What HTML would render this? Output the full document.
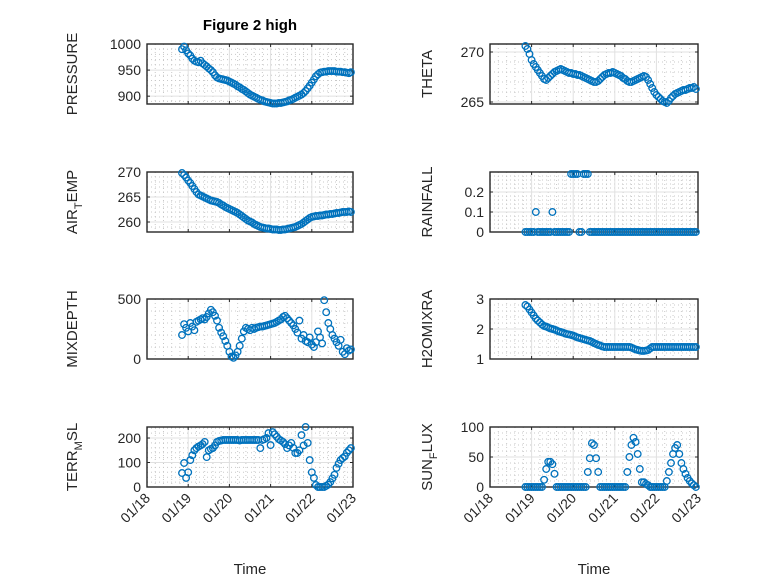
<!DOCTYPE html>
<html><head><meta charset="utf-8"><style>
body{margin:0;background:#fff;}
svg{display:block;font-family:"Liberation Sans",sans-serif;}
</style></head><body>
<svg id="fig" width="778" height="583" viewBox="0 0 778 583" xmlns="http://www.w3.org/2000/svg">
<rect width="778" height="583" fill="#fff"/>
<text x="250" y="30" text-anchor="middle" font-weight="bold" font-size="15" fill="#000">Figure 2 high</text>
</svg>
<script>
// days after 01/18 00:00
const times=[0.85,0.90,0.95,1.00,1.05,1.10,1.15,1.20,1.25,1.30,1.35,1.40,1.45,1.50,1.55,1.60,1.65,1.70,1.75,1.80,1.85,1.90,1.95,2.00,2.05,2.10,2.15,2.20,2.25,2.30,2.35,2.40,2.45,2.50,2.55,2.60,2.65,2.70,2.75,2.80,2.85,2.90,2.95,3.00,3.05,3.10,3.15,3.20,3.25,3.30,3.35,3.40,3.45,3.50,3.55,3.60,3.65,3.70,3.75,3.80,3.85,3.90,3.95,4.00,4.05,4.10,4.15,4.20,4.25,4.30,4.35,4.40,4.45,4.50,4.55,4.60,4.65,4.70,4.75,4.80,4.85,4.90,4.95];
const xTickLabels=["01/18","01/19","01/20","01/21","01/22","01/23"];
const pressure=[990,995,988,982,978,972,968,966,965,968,963,960,957,953,950,946,940,936,934,933,932,931,930,928,926,924,922,919,917,914,912,909,906,903,901,899,897,895,893,892,890,889,888,887,886,886,886,887,887,888,889,890,892,893,895,897,899,901,903,906,910,915,920,926,932,938,942,945,946,947,947,948,948,948,948,947,947,947,946,946,945,944,946];
const theta=[270.6,270.3,269.8,269.2,268.8,268.5,268.2,267.9,267.6,267.3,267.2,267.4,267.6,267.8,268.0,268.1,268.2,268.3,268.2,268.1,268.0,267.9,267.9,267.8,267.8,267.7,267.7,267.6,267.5,267.4,267.3,267.2,267.1,267.0,267.0,267.1,267.3,267.5,267.7,267.8,267.9,267.9,268.0,267.9,267.8,267.7,267.6,267.4,267.3,267.1,267.0,267.0,267.1,267.2,267.3,267.4,267.5,267.6,267.5,267.2,266.8,266.4,266.0,265.7,265.5,265.3,265.1,265.0,264.9,265.1,265.4,265.6,265.8,265.9,266.0,266.1,266.2,266.2,266.3,266.4,266.4,266.5,266.3];
const airTemp=[269.8,269.4,268.9,268.3,267.8,267.2,266.6,266.0,265.5,265.3,265.1,264.9,264.7,264.5,264.3,264.2,264.1,264.0,263.8,263.5,263.3,263.0,262.8,262.6,262.4,262.2,262.0,261.8,261.5,261.2,260.9,260.6,260.3,260.1,259.9,259.6,259.4,259.2,259.0,258.9,258.8,258.7,258.7,258.6,258.5,258.5,258.5,258.4,258.4,258.5,258.5,258.6,258.7,258.8,258.9,259.0,259.2,259.4,259.6,259.9,260.2,260.5,260.8,261.0,261.1,261.2,261.2,261.3,261.3,261.4,261.5,261.5,261.6,261.6,261.7,261.8,261.8,261.9,262.0,262.0,262.0,262.1,262.0];
const rainfall=[0,0,0,0,0,0.1,0,0,0,0,0,0,0,0.1,0,0,0,0,0,0,0,0,0.29,0.29,0.29,0.29,0,0,0.29,0.29,0.29,0,0,0,0,0,0,0,0,0,0,0,0,0,0,0,0,0,0,0,0,0,0,0,0,0,0,0,0,0,0,0,0,0,0,0,0,0,0,0,0,0,0,0,0,0,0,0,0,0,0,0,0];
const mixDepth=[200,290,260,230,300,270,240,310,320,330,340,330,350,380,410,390,360,320,260,220,190,150,110,60,20,10,30,60,110,170,230,260,250,240,260,250,260,265,270,270,275,280,285,290,295,300,310,320,330,350,360,340,320,300,280,250,220,320,170,200,150,140,180,120,100,140,230,180,130,490,390,300,250,200,170,140,110,160,60,40,90,70,80];
const h2oMixRa=[2.8,2.75,2.65,2.55,2.45,2.35,2.28,2.22,2.15,2.10,2.08,2.05,2.02,2.00,1.98,1.95,1.92,1.90,1.88,1.85,1.83,1.82,1.80,1.78,1.75,1.72,1.70,1.68,1.66,1.64,1.62,1.60,1.57,1.53,1.50,1.47,1.45,1.42,1.40,1.40,1.40,1.40,1.40,1.40,1.40,1.40,1.40,1.40,1.40,1.40,1.40,1.38,1.35,1.32,1.30,1.28,1.27,1.27,1.28,1.30,1.35,1.40,1.40,1.40,1.40,1.40,1.40,1.40,1.40,1.40,1.40,1.40,1.40,1.40,1.40,1.40,1.40,1.40,1.40,1.40,1.40,1.40,1.40];
const terrMsl=[57,98,37,60,110,130,150,159,165,170,175,184,122,150,155,159,170,184,188,190,192,192,192,192,192,192,192,192,190,192,192,192,192,192,192,192,192,192,159,192,195,200,220,171,224,215,205,195,190,184,175,159,170,180,160,139,139,150,212,170,245,180,110,60,37,8,0,0,0,0,5,10,20,35,50,78,95,110,118,125,140,150,159];
const sunFlux=[0,0,0,0,0,0,0,0,0,12,30,42,42,38,22,0,0,0,0,0,0,0,0,0,0,0,0,0,0,0,25,48,73,70,48,25,0,0,0,0,0,0,0,0,0,0,0,0,0,25,50,70,82,75,55,30,8,8,5,3,0,0,0,0,0,0,0,0,10,25,40,55,65,70,55,40,30,22,15,10,6,3,0];

const svg=document.getElementById('fig');
const NS='http://www.w3.org/2000/svg';
function mk(tag,attrs,parent){const e=document.createElementNS(NS,tag);for(const k in attrs)e.setAttribute(k,attrs[k]);(parent||svg).appendChild(e);return e;}

const panels=[
 {key:'pressure',data:pressure,x0:147,x1:353,y0:44,lim:[885,1000],ticks:[900,950,1000],minor:10,label:['PRESSURE'],lx:77,bottom:false},
 {key:'theta',data:theta,x0:490,x1:698,y0:44,lim:[264.8,270.8],ticks:[265,270],minor:1,label:['THETA'],lx:432,bottom:false},
 {key:'air-temp',data:airTemp,x0:147,x1:353,y0:172,lim:[258,270],ticks:[260,265,270],minor:1,label:['AIR','T','EMP'],lx:77,bottom:false},
 {key:'rainfall',data:rainfall,x0:490,x1:698,y0:172,lim:[0,0.3],ticks:[0,0.1,0.2],minor:0.02,label:['RAINFALL'],lx:432,bottom:false},
 {key:'mixdepth',data:mixDepth,x0:147,x1:353,y0:299,lim:[0,500],ticks:[0,500],minor:100,label:['MIXDEPTH'],lx:77,bottom:false},
 {key:'h2omixra',data:h2oMixRa,x0:490,x1:698,y0:299,lim:[1,3],ticks:[1,2,3],minor:0.2,label:['H2OMIXRA'],lx:432,bottom:false},
 {key:'terr-msl',data:terrMsl,x0:147,x1:353,y0:427,lim:[0,245],ticks:[0,100,200],minor:20,label:['TERR','M','SL'],lx:77,bottom:true},
 {key:'sun-flux',data:sunFlux,x0:490,x1:698,y0:427,lim:[0,100],ticks:[0,50,100],minor:10,label:['SUN','F','LUX'],lx:432,bottom:true}
];
const H=60;
panels.forEach(p=>{
 const g=mk('g',{});
 
 
 const xs=t=>p.x0+(t/5)*(p.x1-p.x0);
 const ys=v=>p.y0+H-(v-p.lim[0])/(p.lim[1]-p.lim[0])*H;
 // minor grid
 for(let t=0.2;t<5;t+=0.2){ if(Math.abs(t-Math.round(t))<1e-6)continue;
  mk('line',{x1:xs(t),x2:xs(t),y1:p.y0,y2:p.y0+H,stroke:'#c8c8c8','stroke-width':1,'stroke-dasharray':'1 3'},g);}
 const start=Math.ceil(p.lim[0]/p.minor)*p.minor;
 for(let v=start;v<p.lim[1]+1e-9;v+=p.minor){
  if(p.ticks.some(tk=>Math.abs(tk-v)<1e-6))continue;
  mk('line',{x1:p.x0,x2:p.x1,y1:ys(v),y2:ys(v),stroke:'#c8c8c8','stroke-width':1,'stroke-dasharray':'1 3'},g);}
 // major grid
 for(let d=1;d<5;d++) mk('line',{x1:xs(d),x2:xs(d),y1:p.y0,y2:p.y0+H,stroke:'#e0e0e0','stroke-width':1},g);
 p.ticks.forEach(v=>mk('line',{x1:p.x0,x2:p.x1,y1:ys(v),y2:ys(v),stroke:'#e0e0e0','stroke-width':1},g));
 // ticks
 for(let d=0;d<=5;d++){
  mk('line',{x1:xs(d),x2:xs(d),y1:p.y0+H,y2:p.y0+H-3,stroke:'#262626','stroke-width':1},g);
  mk('line',{x1:xs(d),x2:xs(d),y1:p.y0,y2:p.y0+3,stroke:'#262626','stroke-width':1},g);
 }
 p.ticks.forEach(v=>{
  mk('line',{x1:p.x0,x2:p.x0+3,y1:ys(v),y2:ys(v),stroke:'#262626','stroke-width':1},g);
  mk('line',{x1:p.x1,x2:p.x1-3,y1:ys(v),y2:ys(v),stroke:'#262626','stroke-width':1},g);
  const tl=mk('text',{x:p.x0-6,y:ys(v)+5,'text-anchor':'end','font-size':14,fill:'#262626'},g);
  tl.textContent=String(v);
  
  
 });
 // box
 mk('rect',{x:p.x0,y:p.y0,width:p.x1-p.x0,height:H,fill:'none',stroke:'#262626','stroke-width':1.4},g);
 // markers
 const mg=mk('g',{fill:'none',stroke:'#0072BD','stroke-width':1.3},g);
 
 
 p.data.forEach((v,i)=>{
  const c=mk('circle',{cx:xs(times[i]).toFixed(1),cy:ys(v).toFixed(1),r:3.3},mg);
  
  
 });
 // y label
 const cy=p.y0+H/2;
 const yl=mk('text',{transform:`translate(${p.lx},${cy}) rotate(-90)`,'text-anchor':'middle','font-size':15,fill:'#262626'},g);
 
 
 const s1=mk('tspan',{},yl);s1.textContent=p.label[0];
 if(p.label.length>1){
  const s2=mk('tspan',{dy:5,'font-size':11},yl);s2.textContent=p.label[1];
  const s3=mk('tspan',{dy:-5},yl);s3.textContent=p.label[2];
 }
 if(p.bottom){
  xTickLabels.forEach((lab,d)=>{
   const tx=xs(d)+4, ty=p.y0+H+12;
   const t=mk('text',{transform:`translate(${tx},${ty}) rotate(-45)`,'text-anchor':'end','font-size':14,fill:'#262626'},g);
   t.textContent=lab;
   
   
  });
  const xt=mk('text',{x:(p.x0+p.x1)/2,y:574,'text-anchor':'middle','font-size':15,fill:'#262626'},g);
  xt.textContent='Time';
  
  
 }
});
</script>
</body></html>
